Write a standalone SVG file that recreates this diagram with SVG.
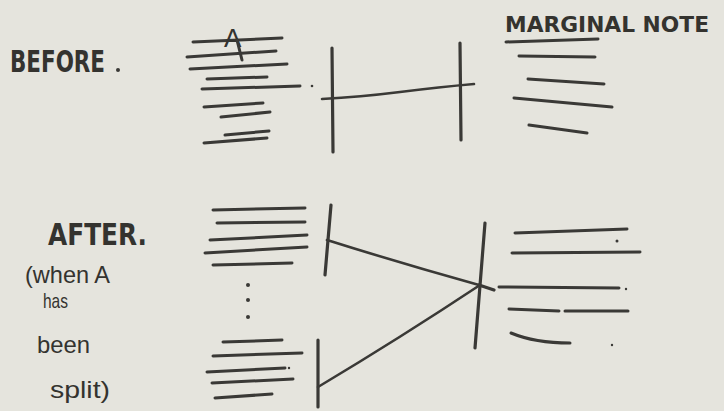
<svg xmlns="http://www.w3.org/2000/svg" width="724" height="411" viewBox="0 0 724 411">
<style>
.ln{stroke:#3a3936;stroke-width:3;stroke-linecap:round;fill:none}
.bar{stroke:#3a3936;stroke-width:3.2;stroke-linecap:round;fill:none}
.cn{stroke:#3a3936;stroke-width:2.6;stroke-linecap:round;stroke-linejoin:round;fill:none}
.dot{fill:#3a3936}
.t{font-family:"DejaVu Sans","Liberation Sans",sans-serif;fill:#34332f;font-weight:bold}
.h{font-family:"Liberation Sans",sans-serif;fill:#34332f}
</style>
<rect width="724" height="411" fill="#e5e4dd"/>

<g id="label-before">
<text class="t" x="10" y="72" font-size="30" textLength="95" lengthAdjust="spacingAndGlyphs">BEFORE</text>
<circle class="dot" cx="118" cy="70" r="2"/>
</g>

<g id="label-marginal-note">
<text class="t" x="505" y="32" font-size="22" textLength="204" lengthAdjust="spacingAndGlyphs">MARGINAL NOTE</text>
</g>

<g id="before-text-block">
<path class="ln" d="M193 42 L282 38 M187 57 L276 51 M190 69 L287 64 M207 79 L267 77 M202 89 L300 86 M204 107 L263 103 M221 117 L270 112 M225 135 L269 131 M204 143 L267 138"/>
<circle class="dot" cx="312" cy="86" r="1.3"/>
<text class="h" x="224" y="47" font-size="26">A</text>
<path class="ln" stroke-width="2" d="M237 40 L242 60"/>
</g>

<g id="before-left-bar"><path class="bar" d="M332 48 L333 152"/></g>
<g id="before-right-bar"><path class="bar" d="M460 43 L461 140"/></g>

<g id="before-notes">
<path class="ln" d="M506 42 L598 39 M519 56 L595 57 M528 79 L604 84 M514 98 L612 107 M529 125 L587 133"/>
</g>

<g id="label-after">
<text class="t" x="48" y="245" font-size="30" textLength="99" lengthAdjust="spacingAndGlyphs">AFTER.</text>
<text class="h" x="25" y="283" font-size="24" textLength="85" lengthAdjust="spacingAndGlyphs">(when A</text>
<text class="h" x="43" y="308" font-size="21" textLength="25" lengthAdjust="spacingAndGlyphs">has</text>
<text class="h" x="37" y="353" font-size="24" textLength="53" lengthAdjust="spacingAndGlyphs">been</text>
<text class="h" x="50" y="398" font-size="24" textLength="60" lengthAdjust="spacingAndGlyphs">split)</text>
</g>

<g id="after-text-upper">
<path class="ln" d="M213 210 L305 208 M217 223 L305 222 M210 240 L307 235 M205 253 L307 247 M213 265 L292 263"/>
</g>

<g id="ellipsis">
<circle class="dot" cx="248" cy="285" r="2"/>
<circle class="dot" cx="248" cy="300" r="2"/>
<circle class="dot" cx="248" cy="317" r="2"/>
</g>

<g id="after-text-lower">
<path class="ln" d="M223 342 L282 340 M213 356 L302 353 M207 372 L285 368 M212 383 L293 379 M215 398 L272 394"/>
<circle class="dot" cx="289" cy="368" r="1.2"/>
</g>

<g id="after-upper-bar"><path class="bar" d="M331 205 L325 275"/></g>
<g id="after-lower-bar"><path class="bar" d="M318 340 L318 407"/></g>
<g id="after-right-bar"><path class="bar" d="M485 223 L475 348 M479 285 L494 290"/></g>

<g id="after-notes">
<path class="ln" d="M515 233 L627 229 M512 253 L640 252 M499 287 L619 288 M509 309 L559 311 M565 311 L628 311"/>
<path class="ln" d="M511 333 Q535 343 570 343"/>
<circle class="dot" cx="617" cy="241" r="1.5"/>
<circle class="dot" cx="626" cy="289" r="1.2"/>
<circle class="dot" cx="612" cy="345" r="1.2"/>
</g>

<g id="connectors">
<path class="cn" d="M322 99 Q360 97 400 92 T474 84"/>
<path class="cn" d="M327 240 Q400 263 479 285"/>
<path class="cn" d="M318 387 Q400 338 480 285"/>
</g>
</svg>
